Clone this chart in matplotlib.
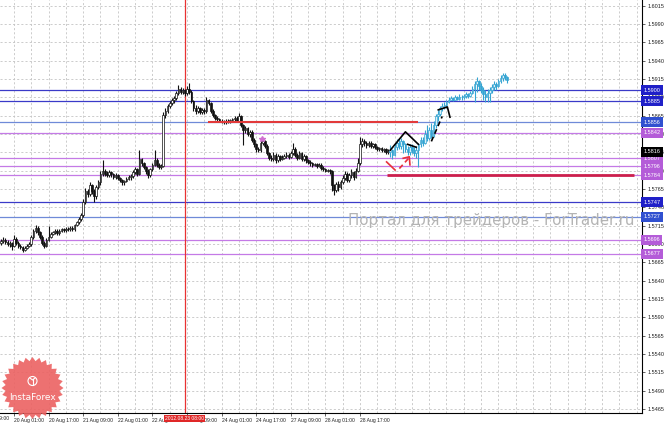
import matplotlib
matplotlib.use('Agg')
import matplotlib.pyplot as plt
import numpy as np
from matplotlib.patches import Rectangle, Polygon, Circle

# prices stored as points above 1.5000 (e.g. 694 -> 1.5694)
first_open = 692
close_pts = [694, 696, 693, 690, 692, 688, 697, 692, 688, 686,
             682, 685, 688, 690, 700, 708, 712, 706, 700, 692,
             688, 696, 700, 704, 706, 708, 705, 708, 710, 709,
             711, 710, 712, 710, 716, 720, 724, 730, 748, 762,
             758, 770, 762, 755, 768, 774, 786, 790, 786, 784,
             788, 785, 782, 784, 780, 777, 774, 776, 779, 781,
             783, 788, 792, 786, 806, 800, 795, 790, 784, 792,
             798, 805, 798, 795, 797, 866, 872, 878, 882, 886,
             889, 896, 902, 898, 900, 896, 902, 898, 885, 876,
             872, 875, 870, 873, 871, 886, 882, 872, 866, 862,
             860, 858, 857, 856, 858, 857, 859, 860, 862, 858,
             864, 852, 845, 848, 840, 843, 832, 826, 820, 818,
             828, 830, 824, 814, 808, 806, 812, 804, 810, 806,
             808, 810, 812, 809, 814, 820, 812, 808, 814, 806,
             810, 804, 802, 800, 798, 799, 797, 798, 794, 792,
             790, 791, 789, 770, 764, 772, 768, 775, 780, 786,
             778, 784, 788, 782, 790, 800, 826, 830, 828, 825,
             828, 824, 826, 822, 820, 821, 818, 819, 816, 816]
high_pts = [697, 699, 698, 695, 694, 693, 702, 699, 694, 690,
            688, 687, 690, 693, 703, 711, 716, 714, 708, 702,
            694, 698, 714, 706, 708, 710, 710, 710, 712, 712,
            713, 713, 714, 714, 718, 722, 727, 733, 751, 766,
            765, 774, 772, 765, 771, 778, 789, 805, 793, 789,
            791, 790, 787, 787, 786, 782, 779, 778, 781, 784,
            786, 791, 795, 794, 818, 808, 802, 797, 792, 794,
            801, 818, 807, 800, 799, 870, 875, 881, 885, 889,
            892, 899, 907, 904, 903, 902, 905, 910, 900, 887,
            879, 878, 877, 876, 875, 890, 888, 884, 874, 868,
            864, 862, 860, 859, 860, 860, 861, 862, 865, 864,
            869, 866, 854, 851, 850, 846, 845, 834, 828, 823,
            832, 834, 832, 826, 816, 811, 816, 814, 813, 812,
            811, 813, 815, 814, 817, 828, 822, 814, 817, 816,
            813, 812, 806, 804, 802, 801, 801, 800, 800, 796,
            794, 793, 793, 791, 772, 775, 776, 778, 784, 790,
            788, 787, 792, 790, 794, 808, 836, 834, 833, 830,
            831, 830, 828, 828, 824, 823, 823, 821, 821, 819]
low_pts = [689, 691, 690, 687, 686, 682, 686, 689, 685, 683,
           679, 680, 683, 686, 688, 697, 705, 703, 697, 689,
           684, 686, 694, 698, 702, 704, 703, 703, 706, 707,
           707, 708, 708, 708, 708, 714, 718, 722, 727, 745,
           754, 755, 758, 748, 752, 765, 771, 783, 783, 781,
           781, 782, 779, 779, 777, 774, 771, 771, 774, 777,
           778, 780, 785, 783, 784, 797, 792, 786, 780, 782,
           789, 796, 795, 792, 792, 795, 862, 869, 875, 879,
           883, 886, 893, 894, 895, 892, 893, 894, 882, 872,
           868, 869, 867, 867, 868, 869, 879, 869, 863, 859,
           858, 856, 855, 854, 854, 855, 855, 857, 858, 856,
           856, 849, 825, 842, 837, 836, 829, 822, 816, 815,
           816, 825, 821, 811, 805, 803, 803, 801, 802, 803,
           804, 806, 808, 806, 807, 812, 809, 805, 806, 803,
           803, 801, 799, 797, 795, 796, 794, 795, 791, 789,
           788, 788, 786, 762, 757, 761, 763, 765, 772, 777,
           774, 775, 780, 778, 780, 788, 798, 822, 824, 821,
           822, 821, 821, 819, 817, 817, 815, 815, 813, 813]

# forecast bars (cyan)
fc_close_pts = [818, 812, 822, 828, 824, 830, 826, 820, 816, 822,
                818, 814, 818, 826, 832, 828, 840, 834, 846, 838,
                852, 864, 868, 875, 878, 880, 884, 887, 889, 887,
                890, 888, 891, 890, 892, 894, 892, 896, 902, 908,
                912, 906, 900, 894, 890, 896, 900, 904, 908, 906,
                912, 916, 920, 918, 914]
fc_high_pts = [825, 820, 826, 833, 835, 834, 832, 828, 824, 826,
               826, 822, 824, 828, 836, 836, 846, 852, 850, 855,
               858, 868, 873, 878, 882, 884, 886, 891, 892, 891,
               893, 892, 894, 893, 895, 897, 896, 899, 905, 912,
               918, 914, 910, 904, 900, 902, 904, 908, 912, 911,
               915, 920, 923, 923, 919]
fc_low_pts = [809, 806, 810, 818, 820, 820, 814, 816, 812, 812,
              814, 810, 808, 795, 822, 824, 826, 830, 832, 834,
              836, 848, 858, 864, 872, 874, 876, 882, 886, 885,
              886, 886, 887, 887, 888, 889, 889, 890, 894, 884,
              898, 900, 896, 886, 884, 884, 884, 896, 900, 900,
              904, 910, 913, 914, 910]

first_bar = -6   # bar 0 = 20 Aug 01:00 (H1)

level_prices = [1.5900, 1.5885, 1.5856, 1.5842, 1.5807, 1.5796, 1.5784,
                1.5747, 1.5727, 1.5696, 1.5677]
level_kinds = ['b', 'b', 'lb', 'o', 'o', 'o', 'o', 'b', 'lb', 'o', 'o']
current_price = 1.5816

time_labels = ['20 Aug 01:00', '20 Aug 17:00', '21 Aug 09:00',
               '22 Aug 01:00', '22 Aug 17:00', '23 Aug 09:00', '24 Aug 01:00',
               '24 Aug 17:00', '27 Aug 09:00', '28 Aug 01:00', '28 Aug 17:00']
time_label_bars = [0, 16, 32, 48, 64, 80, 96, 112, 128, 144, 160]
cut_label, cut_label_bar = '19 Aug 09:00', -16
vline_bar = 79
vline_label = '2012.08.23 08:00'

red_seg_upper = (1.5856, 89.7, 186.8)
red_seg_lower = (1.5784, 172.5, 286.7)

zz_solid1 = ([174, 181, 187], [1.5818, 1.5843, 1.5826])
zz_solid2 = ([182, 186], [1.5826, 1.5822])
zz_dashed = ([193, 198], [1.5830, 1.5864])
zz_hook = ([196.2, 200.4, 201.6], [1.5873, 1.5877, 1.5863])
red_solid = ([172.3, 176.2], [1.5802, 1.5791])
red_dashed = ([178.2, 182.8], [1.5793, 1.5808])
red_head = ([180.0, 182.8, 183.1], [1.5807, 1.5809, 1.5798])


def to_price(pts):
    return 1.5 + np.asarray(pts, dtype=float) / 10000.0


W, H = 665, 423
fig = plt.figure(figsize=(W / 100, H / 100), dpi=100, facecolor='white')
ax = fig.add_axes([0, 10 / H, 642 / W, 413 / H])
px_per_bar = 2.1625
ax.set_xlim(-14 / px_per_bar, (642 - 14) / px_per_bar)
ax.set_ylim(1.54596, 1.60228)

small = dict(family=['Liberation Sans', 'DejaVu Sans'], size=4.0)
xsmall = dict(family=['Liberation Sans', 'DejaVu Sans'], size=3.6)

# grid
tick_prices = np.round(np.arange(1.5465, 1.6016, 0.0025), 4)
for p in tick_prices:
    ax.axhline(p, color='#c4c4c4', lw=0.6, ls=(0, (2.5, 2.5)), zorder=0)
for b in range(-8, 292, 8):
    ax.axvline(b, color='#c4c4c4', lw=0.6, ls=(0, (2.5, 2.5)), zorder=0)

line_cols = {'b': '#3a3ac8', 'lb': '#6f8ad8', 'o': '#c47ae6'}
box_cols = {'b': '#2020c8', 'lb': '#3050d0', 'o': '#b45cd8'}
for p, k in zip(level_prices, level_kinds):
    ax.axhline(p, color=line_cols[k], lw=0.9, zorder=1)

ax.axvline(vline_bar, color='#e83232', lw=0.9, zorder=2)


def draw_candles(start, o, h, l, c, edge, up_fill, dn_fill):
    idx = np.arange(start, start + len(c))
    ax.vlines(idx, l, h, color=edge, lw=0.8, zorder=3)
    for i, oo, cc in zip(idx, o, c):
        lo, hi = min(oo, cc), max(oo, cc)
        ax.add_patch(Rectangle((i - 0.38, lo), 0.76, max(hi - lo, 0.00004),
                               fc=up_fill if cc >= oo else dn_fill,
                               ec=edge, lw=0.5, zorder=4))


closes = to_price(close_pts)
opens = np.concatenate([[to_price(first_open)], closes[:-1]])
draw_candles(first_bar, opens, to_price(high_pts), to_price(low_pts), closes,
             '#111111', 'white', '#111111')

fc_closes = to_price(fc_close_pts)
fc_opens = np.concatenate([[closes[-1]], fc_closes[:-1]])
draw_candles(first_bar + len(closes), fc_opens, to_price(fc_high_pts),
             to_price(fc_low_pts), fc_closes, '#35a4d2', '#d8f0f8', '#35a4d2')

ax.hlines(red_seg_upper[0], red_seg_upper[1], red_seg_upper[2],
          color='#e23a3a', lw=1.5, zorder=5)
ax.hlines(red_seg_lower[0], red_seg_lower[1], red_seg_lower[2],
          color='#cc1f4c', lw=2.0, zorder=5)

ax.plot(*zz_solid1, color='black', lw=1.2, zorder=6)
ax.plot(*zz_solid2, color='black', lw=1.2, zorder=6)
ax.plot(*zz_dashed, color='black', lw=1.2, ls=(0, (3, 2)), zorder=6)
ax.plot(*zz_hook, color='black', lw=1.2, zorder=6)
ax.plot(*red_solid, color='#e8303a', lw=1.2, zorder=6)
ax.plot(*red_dashed, color='#e8303a', lw=1.2, ls=(0, (3, 2)), zorder=6)
ax.plot(*red_head, color='#e8303a', lw=1.2, zorder=6)
ax.plot(114.7, 1.5833, marker='*', color='#d070d0', ms=4, zorder=6)

# axes frame
for s in ['left', 'top']:
    ax.spines[s].set_visible(False)
ax.spines['right'].set_linewidth(0.8)
ax.spines['bottom'].set_linewidth(0.8)
ax.yaxis.tick_right()
ax.set_yticks(tick_prices)
ax.set_yticklabels(['%.4f' % p for p in tick_prices], **small)
ax.tick_params(axis='y', length=2.5, width=0.5, pad=1.5, colors='#222222')
ax.set_xticks(time_label_bars)
ax.set_xticklabels(time_labels, **xsmall)
for t in ax.get_xticklabels():
    t.set_ha('left')
ax.tick_params(axis='x', length=2, width=0.5, pad=1.5, colors='#222222')

xtr = ax.get_xaxis_transform()
# first label runs off the left edge of the picture
ax.text(cut_label_bar, -0.013, cut_label, transform=xtr, ha='left',
        va='center', color='#222222', clip_on=False, **xsmall)

ytr = ax.get_yaxis_transform()
for p, k in zip(level_prices, level_kinds):
    ax.text(1.002, p, '%.4f' % p, transform=ytr, ha='left', va='center',
            color='white', clip_on=False, zorder=10,
            bbox=dict(boxstyle='square,pad=0.45', fc=box_cols[k], ec='none'),
            **small)
ax.text(1.002, current_price, '%.4f' % current_price, transform=ytr,
        ha='left', va='center', color='white', clip_on=False, zorder=10,
        bbox=dict(boxstyle='square,pad=0.45', fc='black', ec='none'), **small)
ax.text(vline_bar, -0.013, vline_label, transform=xtr,
        ha='center', va='center', color='white', clip_on=False, zorder=10,
        bbox=dict(boxstyle='square,pad=0.2', fc='#e02828', ec='none'), **xsmall)

# overlay: watermark and logo
ov = fig.add_axes([0, 0, 1, 1], zorder=5)
ov.set_xlim(0, W)
ov.set_ylim(H, 0)
ov.axis('off')
ov.text(348, 221, 'Портал для трейдеров - ForTrader.ru', fontsize=10.8,
        color='#b4b4b4', ha='left', va='center', family='DejaVu Sans')

n = 28
ang = np.linspace(0, 2 * np.pi, 2 * n, endpoint=False)
rad = np.where(np.arange(2 * n) % 2 == 0, 31, 27)
star = np.column_stack([32.5 + rad * np.cos(ang), 388 + rad * np.sin(ang)])
ov.add_patch(Polygon(star, closed=True, fc='#ec6262', ec='none', alpha=0.9))
ov.add_patch(Circle((32.5, 381), 4.5, fc='none', ec='white', lw=0.8))
ov.plot([32.5, 32.5], [379, 385], color='white', lw=0.8)
ov.plot([30, 32.5, 35], [378, 380, 378], color='white', lw=0.8)
ov.text(32.5, 397, 'InstaForex', color='white', fontsize=6.5, ha='center',
        va='center', family='DejaVu Sans')

fig.savefig('out.png', dpi=100, facecolor='white')
